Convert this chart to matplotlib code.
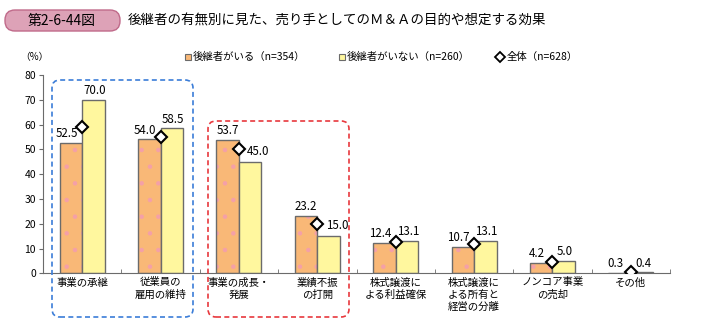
import numpy as np
import matplotlib
matplotlib.use('Agg')
import matplotlib.pyplot as plt
from matplotlib.patches import FancyBboxPatch, Rectangle
from matplotlib.lines import Line2D
from matplotlib.transforms import IdentityTransform

plt.rcParams['font.family'] = ['Noto Sans CJK JP', 'DejaVu Sans']
plt.rcParams['hatch.linewidth'] = 0.8

categories = ['事業の承継', '従業員の\n雇用の維持', '事業の成長・\n発展', '業績不振\nの打開',
              '株式譲渡に\nよる利益確保', '株式譲渡に\nよる所有と\n経営の分離', 'ノンコア事業\nの売却', 'その他']
with_successor = [52.5, 54.0, 53.7, 23.2, 12.4, 10.7, 4.2, 0.3]
no_successor = [70.0, 58.5, 45.0, 15.0, 13.1, 13.1, 5.0, 0.4]
total = [59.2, 55.0, 50.3, 19.9, 12.6, 11.7, 4.4, 0.4]
legend_labels = ['後継者がいる（n=354）', '後継者がいない（n=260）', '全体（n=628）']

orange = '#F9B877'
yellow = '#FFF79E'
edge = '#6B6B6B'

W, H = 718, 323
fig = plt.figure(figsize=(W / 100, H / 100), dpi=100)
ax = fig.add_axes([43 / W, 1 - 273.3 / H, 627 / W, 198.3 / H])

x = np.arange(len(categories))
bw = 0.287
# orange with faint pink dots, then outline on top
ax.bar(x - bw / 2, with_successor, bw, color=orange, edgecolor='#F4A0A8', hatch='.',
       linewidth=0, zorder=2)
ax.bar(x - bw / 2, with_successor, bw, fill=False, edgecolor=edge, linewidth=1.0, zorder=2)
ax.bar(x + bw / 2, no_successor, bw, color=yellow, edgecolor=edge, linewidth=1.0, zorder=2)
ax.plot(x, total, linestyle='none', marker='D', markersize=6, markerfacecolor='white',
        markeredgecolor='black', markeredgewidth=1.5, zorder=4)

for i in range(len(x)):
    # nudge labels away from the diamond
    ox = -3 if total[i] > with_successor[i] else 0
    ax.annotate(f'{with_successor[i]:.1f}', (x[i] - bw / 2, with_successor[i]), xytext=(ox, 2),
                textcoords='offset points', ha='center', va='bottom', fontsize=8.3)
    dy = 2
    dx = 1
    if no_successor[i] < total[i]:
        dy = 3
        dx = 6
    ax.annotate(f'{no_successor[i]:.1f}', (x[i] + bw / 2, no_successor[i]), xytext=(dx, dy),
                textcoords='offset points', ha='center', va='bottom', fontsize=8.3)

ax.set_xlim(-0.5, len(x) - 0.5)
ax.set_ylim(0, 80)
ax.set_yticks(np.arange(0, 81, 10))
ax.set_xticks(x)
ax.set_xticklabels(categories, fontsize=7.5, linespacing=1.25)
ax.set_xticks(np.arange(-0.5, len(x)), minor=True)
ax.tick_params(axis='x', which='major', length=0, pad=3)
ax.tick_params(axis='x', which='minor', length=3, direction='in', color=edge)
ax.tick_params(axis='y', length=3, direction='out', color=edge, labelsize=7.5, pad=2)
for s in ['top', 'right']:
    ax.spines[s].set_visible(False)
for s in ['left', 'bottom']:
    ax.spines[s].set_color(edge)

# dashed group boxes (pixel coords)
def box(x0, y0, x1, y1, color):
    p = FancyBboxPatch((x0, H - y1), x1 - x0, y1 - y0, boxstyle='round,pad=0,rounding_size=8',
                       transform=IdentityTransform(), fill=False, edgecolor=color,
                       linestyle=(0, (3, 2)), linewidth=1.2, zorder=5)
    fig.patches.append(p)

box(52, 80, 193, 317, '#3B7DD8')
box(208, 121, 349, 317, '#E8383D')

# title
title_box = FancyBboxPatch((5, H - 31), 115, 21, boxstyle='round,pad=0,rounding_size=10',
                           transform=IdentityTransform(), facecolor='#DDA2B7',
                           edgecolor='#C06A8A', linewidth=1.0)
fig.patches.append(title_box)
fig.text(62 / W, 1 - 20.5 / H, '第2-6-44図', ha='center', va='center', fontsize=10)
fig.text(128 / W, 1 - 20.5 / H, '後継者の有無別に見た、売り手としてのＭ＆Ａの目的や想定する効果',
         ha='left', va='center', fontsize=9.7)

# legend
fig.text(20 / W, 1 - 57 / H, '（%）', ha='left', va='center', fontsize=7)
ly = 57
for px, col, lab in [(188, orange, legend_labels[0]), (342, yellow, legend_labels[1])]:
    fig.patches.append(Rectangle((px - 3, H - ly - 3), 6, 6, transform=IdentityTransform(),
                                 facecolor=col, edgecolor=edge, linewidth=0.8))
    fig.text((px + 5) / W, 1 - ly / H, lab, ha='left', va='center', fontsize=7.5)
fig.lines.append(Line2D([500 / W], [1 - ly / H], transform=fig.transFigure, marker='D',
                        markersize=5, markerfacecolor='white', markeredgecolor='black',
                        markeredgewidth=1.3))
fig.text(507 / W, 1 - ly / H, legend_labels[2], ha='left', va='center', fontsize=7.5)

fig.savefig('out.png', dpi=100)
